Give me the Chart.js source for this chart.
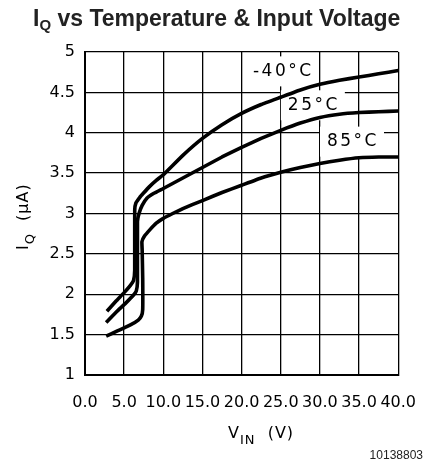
<!DOCTYPE html>
<html>
<head>
<meta charset="utf-8">
<script src="https://cdn.jsdelivr.net/npm/chart.js@4.4.1/dist/chart.umd.min.js"></script>
<style>
body { margin: 0; background: #fff; }
</style>
</head>
<body>
<canvas id="myChart" width="434" height="476"></canvas>
<script>
// curves: V_IN (V) -> I_Q (uA)
const vinM40 = [2.8, 4.0, 5.0, 5.8, 6.2, 6.35, 6.35, 6.5, 7.0, 7.45, 8.2, 9.1, 10, 12.5, 15, 17.5, 20, 22.5, 25, 27.5, 30, 32.5, 35, 37.5, 40];
const iqM40 = [1.79, 1.92, 2.02, 2.11, 2.17, 2.3, 3.04, 3.13, 3.2, 3.25, 3.33, 3.41, 3.48, 3.72, 3.93, 4.1, 4.24, 4.35, 4.44, 4.53, 4.6, 4.65, 4.69, 4.73, 4.77];

const vin25 = [2.7, 4.0, 5.2, 6.2, 6.55, 6.7, 6.7, 6.9, 7.3, 7.9, 8.8, 10, 12.5, 15, 17.5, 20, 22.5, 25, 27.5, 30, 32.5, 35, 37.5, 40];
const iq25 = [1.65, 1.78, 1.89, 1.99, 2.04, 2.15, 2.9, 3.0, 3.1, 3.19, 3.25, 3.31, 3.44, 3.57, 3.7, 3.82, 3.93, 4.03, 4.12, 4.19, 4.23, 4.25, 4.26, 4.27];

const vin85 = [2.7, 4.0, 5.8, 6.8, 7.2, 7.37, 7.37, 7.3, 7.27, 7.6, 8.3, 9.1, 10, 11.2, 12.5, 13.7, 15, 17.5, 20, 22.5, 25, 27.5, 30, 32.5, 35, 37.5, 40];
const iq85 = [1.48, 1.54, 1.62, 1.68, 1.73, 1.81, 2.2, 2.55, 2.65, 2.72, 2.8, 2.88, 2.94, 3.0, 3.06, 3.11, 3.16, 3.26, 3.35, 3.44, 3.51, 3.57, 3.62, 3.66, 3.69, 3.7, 3.7];

const xTicks = [0, 5, 10, 15, 20, 25, 30, 35, 40];
const yTicks = [1, 1.5, 2, 2.5, 3, 3.5, 4, 4.5, 5];

// curve labels: text, x value, y value (centre of label)
const curveLabels = ['-40°C', '25°C', '85°C'];
const labelX = [25.2, 29.1, 34.1];
const labelY = [4.76, 4.34, 3.89];

function toPoints(xs, ys) {
    return xs.map((x, i) => ({ x: x, y: ys[i] }));
}

// draws main text, a lowered subscript and the rest, from the left
function drawSub(ctx, x, y, main, sub, rest, font, subFont, drop) {
    ctx.font = font;
    ctx.fillText(main, x, y);
    x += ctx.measureText(main).width;
    ctx.font = subFont;
    ctx.fillText(sub, x, y + drop);
    x += ctx.measureText(sub).width;
    ctx.font = font;
    ctx.fillText(rest, x, y);
}

const textPlugin = {
    id: 'texts',
    beforeDatasetsDraw(chart) {
        const ctx = chart.ctx;
        const xs = chart.scales.x, ys = chart.scales.y;
        ctx.save();
        ctx.font = '17px "DejaVu Sans"';
        ctx.letterSpacing = '2.5px';
        curveLabels.forEach((t, i) => {
            const w = ctx.measureText(t).width;
            const cx = xs.getPixelForValue(labelX[i]);
            const cy = ys.getPixelForValue(labelY[i]);
            ctx.fillStyle = '#fff';
            ctx.fillRect(cx - w / 2 - 6, cy - 15, w + 12, 30);
        });
        ctx.restore();
    },
    afterDatasetsDraw(chart) {
        const ctx = chart.ctx;
        const xs = chart.scales.x, ys = chart.scales.y;
        ctx.save();
        ctx.fillStyle = '#000';
        ctx.textBaseline = 'middle';
        ctx.textAlign = 'center';
        ctx.font = '17px "DejaVu Sans"';
        ctx.letterSpacing = '2.5px';
        curveLabels.forEach((t, i) => {
            ctx.fillText(t, xs.getPixelForValue(labelX[i]) + 1, ys.getPixelForValue(labelY[i]));
        });

        // title
        ctx.letterSpacing = '0px';
        ctx.textAlign = 'left';
        ctx.textBaseline = 'alphabetic';
        ctx.fillStyle = '#222';
        drawSub(ctx, 33, 26, 'I', 'Q', ' vs Temperature & Input Voltage',
            'bold 23px "Liberation Sans"', 'bold 15px "Liberation Sans"', 4);

        // x axis title
        ctx.fillStyle = '#000';
        ctx.letterSpacing = '1px';
        const f = '16px "DejaVu Sans"', sf = '13px "DejaVu Sans"';
        drawSub(ctx, 228, 438, 'V', 'IN', '  (V)', f, sf, 6);

        // y axis title
        ctx.save();
        ctx.translate(28, 250);
        ctx.rotate(-Math.PI / 2);
        drawSub(ctx, 0, 0, 'I', 'Q', '  (μA)', f, sf, 6);
        ctx.restore();

        // figure number
        ctx.letterSpacing = '0px';
        ctx.textAlign = 'right';
        ctx.font = '12px "Liberation Sans"';
        ctx.fillStyle = '#222';
        ctx.fillText('10138803', 423, 459);
        ctx.restore();
    }
};

const ctx = document.getElementById('myChart').getContext('2d');
const lineStyle = {
    borderColor: '#000',
    borderWidth: 3.6,
    pointRadius: 0,
    showLine: true,
    tension: 0.1,
    fill: false,
    borderJoinStyle: 'round',
    borderCapStyle: 'butt'
};

const myChart = new Chart(ctx, {
    type: 'scatter',
    data: {
        datasets: [
            { label: '-40°C', data: toPoints(vinM40, iqM40), ...lineStyle },
            { label: '25°C', data: toPoints(vin25, iq25), ...lineStyle },
            { label: '85°C', data: toPoints(vin85, iq85), ...lineStyle }
        ]
    },
    options: {
        responsive: false,
        animation: false,
        layout: { padding: { top: 52, right: 27, left: 0, bottom: 0 } },
        plugins: {
            legend: { display: false },
            tooltip: { enabled: false },
            title: { display: false }
        },
        scales: {
            x: {
                type: 'linear',
                min: 0,
                max: 40,
                afterFit: s => { s.height = 101; },
                afterBuildTicks: s => { s.ticks = xTicks.map(v => ({ value: v })); },
                grid: { color: '#000', lineWidth: 1.3, drawTicks: false },
                border: { color: '#000', width: 2 },
                ticks: {
                    padding: 18,
                    color: '#000',
                    font: { family: 'DejaVu Sans', size: 16 },
                    maxRotation: 0,
                    callback: v => v.toFixed(1)
                }
            },
            y: {
                type: 'linear',
                min: 1,
                max: 5,
                afterFit: s => { s.width = 85; },
                afterBuildTicks: s => { s.ticks = yTicks.map(v => ({ value: v })); },
                grid: { color: '#000', lineWidth: 1.3, drawTicks: false },
                border: { color: '#000', width: 2 },
                ticks: {
                    padding: 10,
                    color: '#000',
                    font: { family: 'DejaVu Sans', size: 16 },
                    callback: v => String(v)
                }
            }
        }
    },
    plugins: [textPlugin]
});
</script>
</body>
</html>
